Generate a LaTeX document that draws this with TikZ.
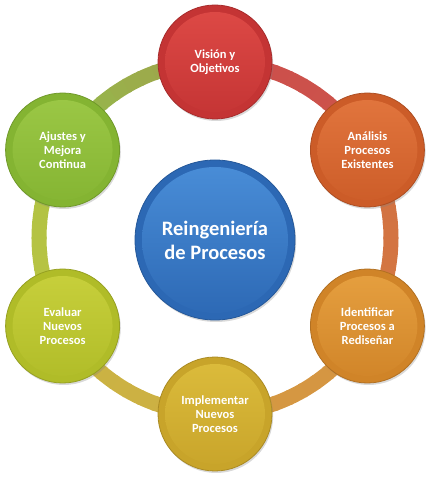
\documentclass[tikz,border=0pt]{standalone}
\usepackage{fontspec}
\setmainfont{Carlito}
\usetikzlibrary{shadows}
\definecolor{cR}{HTML}{C43434}
\definecolor{cRl}{HTML}{DE4A46}
\definecolor{cO}{HTML}{CC5C28}
\definecolor{cOl}{HTML}{E2763E}
\definecolor{cOG}{HTML}{D08428}
\definecolor{cOGl}{HTML}{E6A040}
\definecolor{cG}{HTML}{C8A42A}
\definecolor{cGl}{HTML}{DCBC3C}
\definecolor{cYG}{HTML}{B0BC28}
\definecolor{cYGl}{HTML}{C8D03C}
\definecolor{cGr}{HTML}{84B432}
\definecolor{cGrl}{HTML}{9CC846}
\definecolor{cB}{HTML}{2C68B4}
\definecolor{cBl}{HTML}{4A8ED8}
\tikzset{
  ball/.style 2 args={circle, minimum size=114pt, inner sep=0pt, fill=#1,
    draw=#1!85!black, line width=0.8pt,
    drop shadow={shadow xshift=1.2pt, shadow yshift=-2pt, opacity=0.3},
    path picture={\shade[top color=#2, bottom color=#1]
      (path picture bounding box.center) circle (50pt);},
    text=white, align=center,
    font=\fontsize{12.5}{14}\selectfont\bfseries},
  bigball/.style 2 args={ball={#1}{#2}, minimum size=160pt,
    path picture={\shade[top color=#2, bottom color=#1]
      (path picture bounding box.center) circle (73pt);},
    font=\fontsize{20.5}{24}\selectfont\bfseries}
}
\begin{document}
\begin{tikzpicture}[x=1pt,y=1pt]
\useasboundingbox (0,0) rectangle (434,480);
\coordinate (O) at (215,242);
% ring
\foreach \s/\ca/\cb in {0/cR/cO,1/cO/cOG,2/cOG/cG,3/cG/cYG,4/cYG/cGr,5/cGr/cR}{
  \foreach \k in {0,...,11}{
    \pgfmathtruncatemacro\p{100-\k*25/11}
    \pgfmathsetmacro\st{90-60*\s-5*\k}
    \draw[line width=15pt, color=\ca!\p!\cb!88!white]
      ([shift={(\st+0.4:176)}]O) arc[start angle=\st+0.4, end angle=\st-5.4, radius=176];
  }
}
\node[ball={cR}{cRl}] (vision) at ([shift={(90:176)}]O) {Visión y\\Objetivos};
\node[ball={cO}{cOl}] (analisis) at ([shift={(30:176)}]O) {Análisis\\Procesos\\Existentes};
\node[ball={cOG}{cOGl}] (identificar) at ([shift={(-30:176)}]O) {Identificar\\Procesos a\\Rediseñar};
\node[ball={cG}{cGl}] (implementar) at ([shift={(-90:176)}]O) {Implementar\\Nuevos\\Procesos};
\node[ball={cYG}{cYGl}] (evaluar) at ([shift={(-150:176)}]O) {Evaluar\\Nuevos\\Procesos};
\node[ball={cGr}{cGrl}] (ajustes) at ([shift={(150:176)}]O) {Ajustes y\\Mejora\\Continua};
\node[bigball={cB}{cBl}] (centro) at (215,240) {Reingeniería\\de Procesos};
\end{tikzpicture}
\end{document}
